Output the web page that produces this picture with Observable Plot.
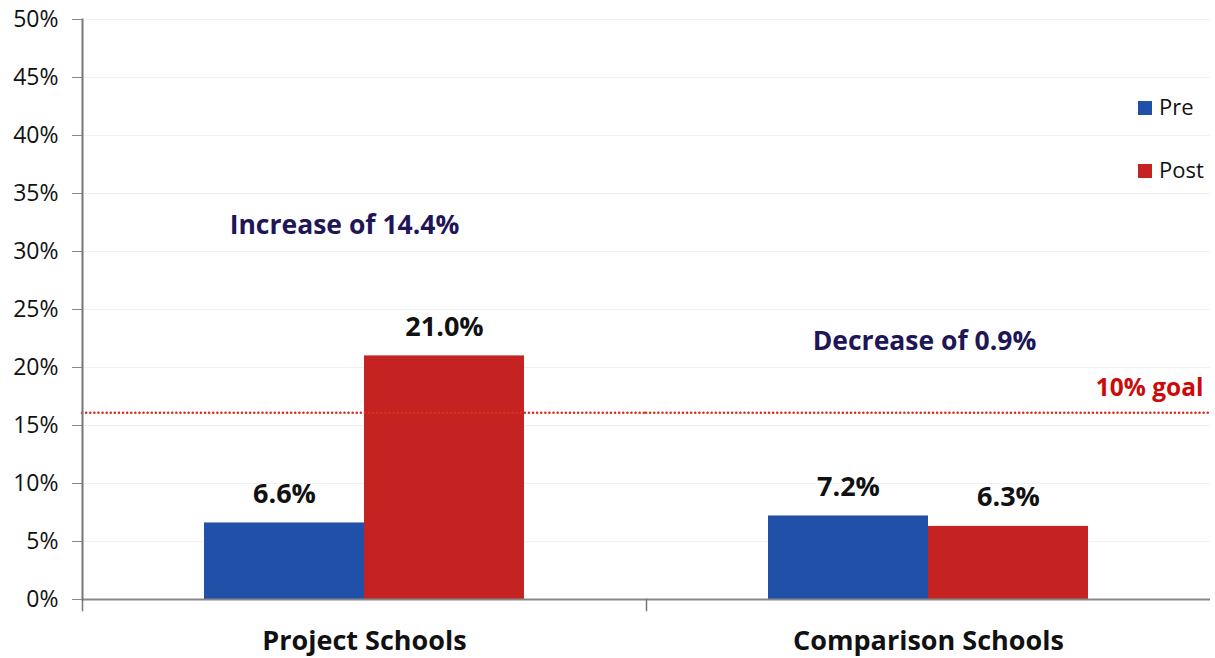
<!DOCTYPE html>
<html>
<head>
<meta charset="utf-8">
<script src="https://cdn.jsdelivr.net/npm/d3@7"></script>
<script src="https://cdn.jsdelivr.net/npm/@observablehq/plot@0.6"></script>
<style>
  html, body { margin: 0; padding: 0; background: #fff; }
  #wrap { position: relative; width: 1215px; height: 658px; font-family: "Open Sans", Lato, sans-serif; }
  #legend { position: absolute; left: 1138px; top: 75px; font-size: 22px; color: #111; line-height: 63px; }
  #legend .sw { display: inline-block; width: 14px; height: 14px; margin-right: 7px; vertical-align: 0px; }
</style>
</head>
<body>
<div id="wrap"><div id="legend"></div></div>
<script>
const categories = ["Project Schools", "Comparison Schools"];
const series = ["Pre", "Post"];
const colors = ["#2150a8", "#c52222"];
const preValues = [6.6, 7.2];
const postValues = [21.0, 6.3];
const yTicks = [0, 5, 10, 15, 20, 25, 30, 35, 40, 45, 50];
const goalValue = 16.1;
const goalLabel = "10% goal";
const goalLabelY = 18.2;
const notes = ["Increase of 14.4%", "Decrease of 0.9%"];
const noteY = [32.2, 22.2];

const data = [];
categories.forEach((c, i) => {
  data.push({cat: c, series: "Pre", value: preValues[i]});
  data.push({cat: c, series: "Post", value: postValues[i]});
});
const noteData = categories.map((c, i) => ({cat: c, text: notes[i], y: noteY[i]}));
const FONT = "'Open Sans', Lato, sans-serif";

const chart = Plot.plot({
  width: 1215,
  height: 658,
  marginLeft: 82,
  marginRight: 5,
  marginTop: 19,
  marginBottom: 59,
  style: {fontFamily: FONT, background: "#fff"},
  fx: {domain: categories, padding: 0, label: null, axis: null},
  x: {domain: series, padding: 0, paddingOuter: 0.7625, axis: null},
  y: {domain: [0, 50], ticks: yTicks, label: null, axis: null},
  color: {domain: series, range: colors},
  marks: [
    Plot.gridY(yTicks.slice(1), {stroke: "#f1f1f1", strokeOpacity: 1}),
    Plot.barY(data, {fx: "cat", x: "series", y: "value", fill: "series"}),
    Plot.text(data, {fx: "cat", x: "series", y: "value", text: d => d.value.toFixed(1) + "%",
      lineAnchor: "middle", dy: -29, fontSize: 27, fontWeight: "bold", fill: "#111"}),
    Plot.ruleY([goalValue], {stroke: "#d8301f", strokeWidth: 2.5, strokeDasharray: "0.1,4", strokeLinecap: "round"}),
    Plot.text([{cat: categories[1], t: goalLabel, y: goalLabelY}], {fx: "cat", y: "y", text: "t", frameAnchor: "right",
      textAnchor: "end", dx: -7, fontSize: 24.5, fontWeight: "bold", fill: "#cc0a0a"}),
    Plot.text(noteData.slice(0, 1), {fx: "cat", y: "y", text: "text", frameAnchor: "middle", dx: -20, fontSize: 26.5, fontWeight: "bold", fill: "#1e1656"}),
    Plot.text(noteData.slice(1), {fx: "cat", y: "y", text: "text", frameAnchor: "middle", dx: -4, fontSize: 26.5, fontWeight: "bold", fill: "#1e1656"}),
    Plot.ruleY([0], {stroke: "#888", strokeWidth: 2}),
    Plot.frame({anchor: "left", facetAnchor: "left", stroke: "#777", strokeWidth: 2}),
    Plot.frame({anchor: "left", insetTop: 580, insetBottom: -11, stroke: "#777", strokeWidth: 1.5}),
    Plot.axisY({ticks: yTicks, tickFormat: d => d + "%", tickSize: 10, tickPadding: 14, fontSize: 23, stroke: "#888", color: "#111"}),
    Plot.axisFx({anchor: "bottom", tickSize: 0, tickPadding: 31, fontSize: 27, fontWeight: "bold", color: "#111", label: null})
  ]
});
document.getElementById("wrap").prepend(chart);

const legend = document.getElementById("legend");
series.forEach((s, i) => {
  const row = document.createElement("div");
  const sw = document.createElement("span");
  sw.className = "sw";
  sw.style.background = colors[i];
  row.appendChild(sw);
  row.appendChild(document.createTextNode(s));
  legend.appendChild(row);
});
</script>
</body>
</html>
